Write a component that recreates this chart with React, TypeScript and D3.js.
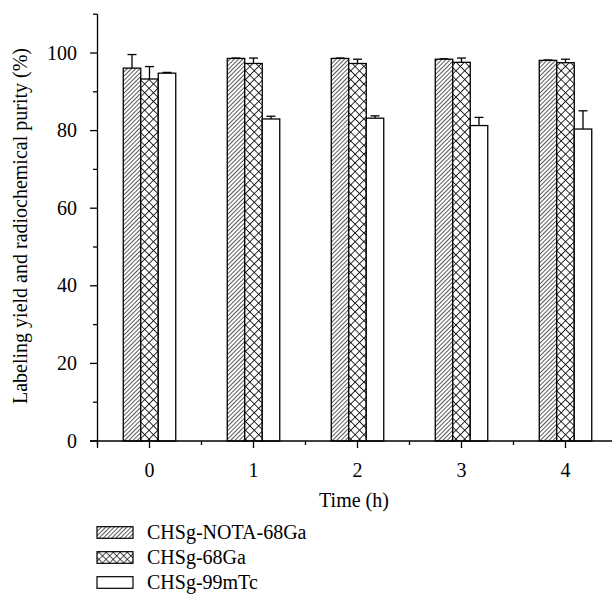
import React from "react";
import * as d3 from "d3";

const categories = [0, 1, 2, 3, 4];
const seriesNames = ["CHSg-NOTA-68Ga", "CHSg-68Ga", "CHSg-99mTc"];
const notaValues = [96.1, 98.6, 98.6, 98.4, 98.1];
const notaErrors = [3.5, 0.1, 0.1, 0.1, 0.1];
const gaValues = [93.3, 97.3, 97.3, 97.6, 97.5];
const gaErrors = [3.2, 1.4, 1.1, 1.1, 0.9];
const tcValues = [94.8, 83.0, 83.2, 81.3, 80.4];
const tcErrors = [0.2, 0.7, 0.6, 2.1, 4.7];
const yTicks = [0, 20, 40, 60, 80, 100];
const yMinorTicks = [10, 30, 50, 70, 90, 110];
const xMinorTicks = [-0.5, 0.5, 1.5, 2.5, 3.5];

const series = [
  { name: seriesNames[0], values: notaValues, errors: notaErrors, fill: "url(#hatch)", legendFill: "url(#hatch)" },
  { name: seriesNames[1], values: gaValues, errors: gaErrors, fill: "url(#cross)", legendFill: "url(#crossSmall)" },
  { name: seriesNames[2], values: tcValues, errors: tcErrors, fill: "#fff", legendFill: "#fff" },
];

export default function App() {
  const W = 612, H = 596;
  const x = d3.scaleLinear().domain([-0.5, 4.5]).range([97.5, 617.5]);
  const y = d3.scaleLinear().domain([0, 100]).range([441, 53]);
  const barW = 17.5;
  const font = "'Liberation Serif', 'Times New Roman', serif";
  const ink = "#000";
  const fs = 20;

  return (
    <svg width={W} height={H} style={{ position: "absolute", left: 0, top: 0 }} fontFamily={font}>
      <defs>
        <pattern id="hatch" patternUnits="userSpaceOnUse" width="3" height="3" patternTransform="rotate(45)">
          <rect width="3" height="3" fill="#fff" />
          <line x1="0" y1="0" x2="0" y2="3" stroke={ink} strokeWidth="1.3" />
        </pattern>
        <pattern id="cross" patternUnits="userSpaceOnUse" width="6.2" height="6.2" patternTransform="rotate(45)">
          <rect width="6.2" height="6.2" fill="#fff" />
          <line x1="0" y1="0" x2="6.2" y2="0" stroke={ink} strokeWidth="1.6" />
          <line x1="0" y1="0" x2="0" y2="6.2" stroke={ink} strokeWidth="1.6" />
        </pattern>
        <pattern id="crossSmall" patternUnits="userSpaceOnUse" width="5" height="5" patternTransform="rotate(45)">
          <rect width="5" height="5" fill="#fff" />
          <line x1="0" y1="0" x2="5" y2="0" stroke={ink} strokeWidth="1.4" />
          <line x1="0" y1="0" x2="0" y2="5" stroke={ink} strokeWidth="1.4" />
        </pattern>
      </defs>

      {/* bars */}
      {categories.map((c, ci) =>
        series.map((s, si) => {
          const bx = x(c) + (si - 1.5) * barW;
          const v = s.values[ci];
          const e = s.errors[ci];
          const cx = bx + barW / 2;
          return (
            <g key={`${ci}-${si}`}>
              <line x1={cx} x2={cx} y1={y(v)} y2={y(v + e)} stroke={ink} strokeWidth={1.3} />
              <line x1={cx - 4.5} x2={cx + 4.5} y1={y(v + e)} y2={y(v + e)} stroke={ink} strokeWidth={1.3} />
              <rect x={bx} y={y(v)} width={barW} height={y(0) - y(v)} fill={s.fill} stroke={ink} strokeWidth={1.3} />
            </g>
          );
        })
      )}

      {/* y axis */}
      <line x1={97.5} x2={97.5} y1={y(110)} y2={y(0) + 7} stroke={ink} strokeWidth={1.3} />
      {yTicks.map((t) => (
        <g key={t}>
          <line x1={90} x2={97.5} y1={y(t)} y2={y(t)} stroke={ink} strokeWidth={1.3} />
          <text x={77} y={y(t)} dy="0.33em" textAnchor="end" fontSize={fs} fill={ink}>{t}</text>
        </g>
      ))}
      {yMinorTicks.map((t) => (
        <line key={t} x1={93} x2={97.5} y1={y(t)} y2={y(t)} stroke={ink} strokeWidth={1.3} />
      ))}

      {/* x axis */}
      <line x1={90} x2={W} y1={y(0)} y2={y(0)} stroke={ink} strokeWidth={1.3} />
      {categories.map((c) => (
        <g key={c}>
          <line x1={x(c)} x2={x(c)} y1={y(0)} y2={y(0) + 7} stroke={ink} strokeWidth={1.3} />
          <text x={x(c)} y={477} textAnchor="middle" fontSize={fs} fill={ink}>{c}</text>
        </g>
      ))}
      {xMinorTicks.map((t) => (
        <line key={t} x1={x(t)} x2={x(t)} y1={y(0)} y2={y(0) + 4} stroke={ink} strokeWidth={1.3} />
      ))}
      <text x={354} y={507} textAnchor="middle" fontSize={fs} fill={ink}>Time (h)</text>

      {/* y label */}
      <text transform={`translate(27,226) rotate(-90)`} textAnchor="middle" fontSize={fs} fill={ink}>
        Labeling yield and radiochemical purity (%)
      </text>

      {/* legend */}
      {series.map((s, i) => {
        const ly = 532.5 + i * 25;
        return (
          <g key={s.name}>
            <rect x={97} y={ly - 5.8} width={36} height={11.6} fill={s.legendFill} stroke={ink} strokeWidth={1.2} />
            <text x={147} y={ly + 6} fontSize={fs} fill={ink}>{s.name}</text>
          </g>
        );
      })}
    </svg>
  );
}
